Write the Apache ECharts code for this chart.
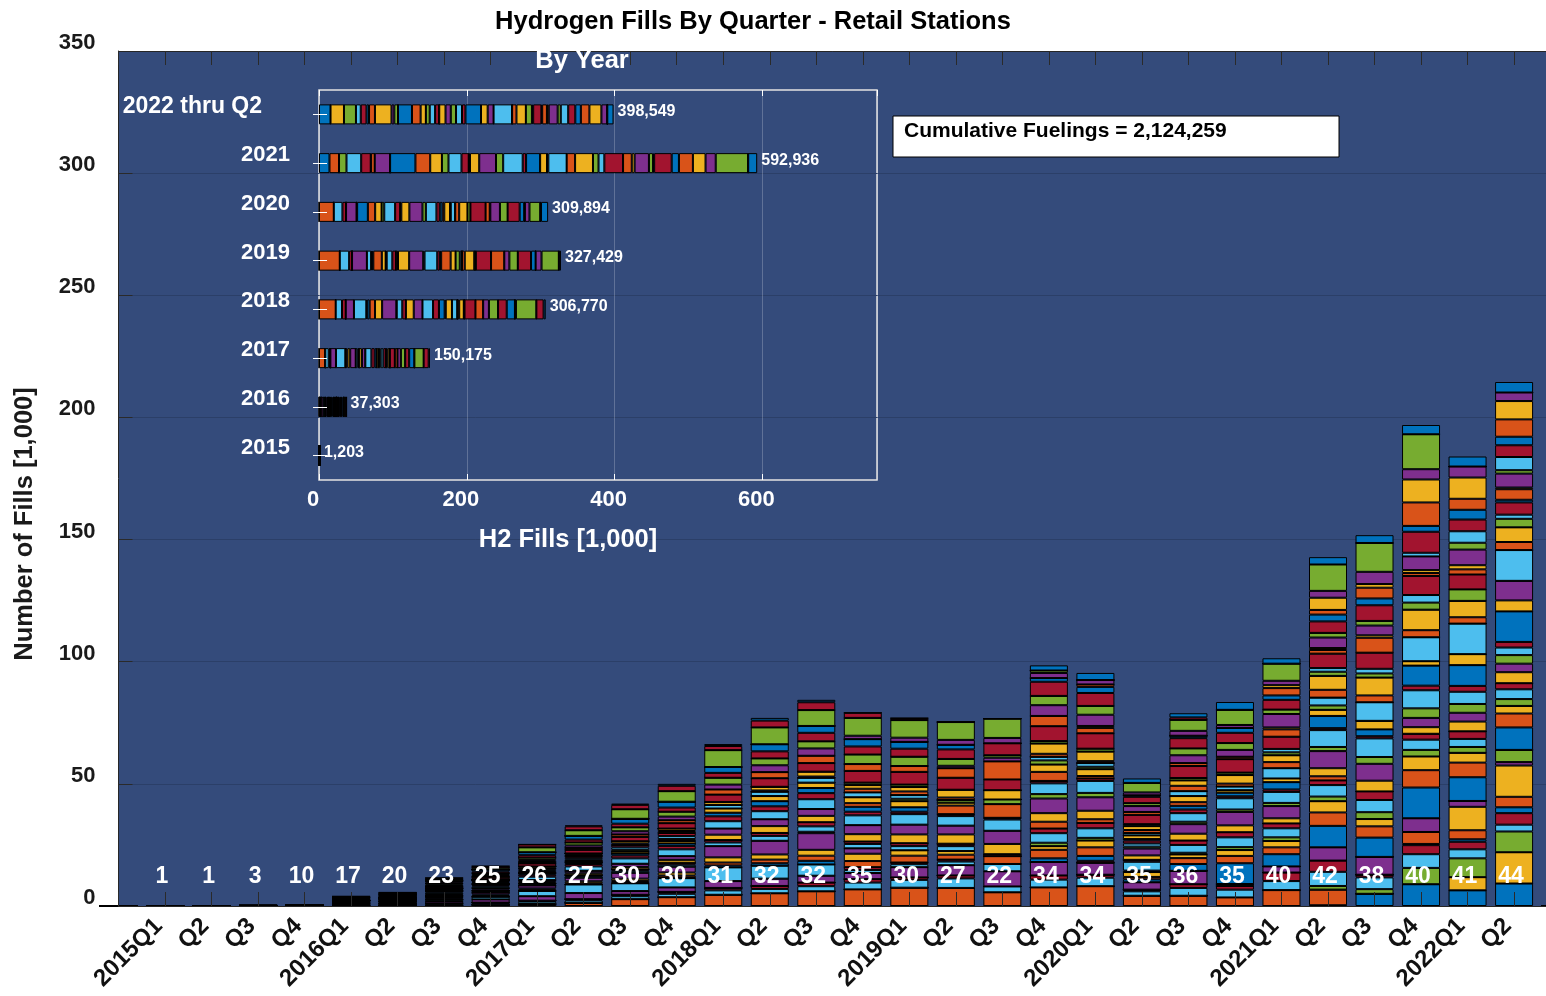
<!DOCTYPE html>
<html><head><meta charset="utf-8">
<script src="https://cdn.jsdelivr.net/npm/echarts/dist/echarts.min.js"></script>
<style>html,body{margin:0;padding:0;background:#fff}#c{width:1546px;height:996px}</style>
</head><body><div id="c"></div>
<script>
// ---------------- data ----------------
const quarters = ['2015Q1','Q2','Q3','Q4','2016Q1','Q2','Q3','Q4','2017Q1','Q2','Q3','Q4','2018Q1','Q2','Q3','Q4','2019Q1','Q2','Q3','Q4','2020Q1','Q2','Q3','Q4','2021Q1','Q2','Q3','Q4','2022Q1','Q2'];
const stationCounts = [1,1,3,10,17,20,23,25,26,27,30,30,31,32,32,35,30,27,22,34,34,35,36,35,40,42,38,40,41,44];
const yearLabels = ['2015','2016','2017','2018','2019','2020','2021','2022 thru Q2'];
const yearTotals = [1203,37303,150175,306770,327429,309894,592936,398549];
const cumulativeFuelings = 2124259;
const yTickMin = 0, yTickMax = 350, yTickStep = 50;
const insetTicks = [0, 200, 400, 600];
const stationColors = ['#0072BD','#D95319','#EDB120','#7E2F8E','#77AC30','#4DBEEE','#A2142F'];
const stationCount = 57;

// fills per station (station index: value in 1,000 fills), one object per quarter
const f2015Q1 = {26:0.15};
const f2015Q2 = {26:0.2};
const f2015Q3 = {10:0.08,26:0.1,49:0.07};
const f2015Q4 = {5:0.05,10:0.08,12:0.06,17:0.05,24:0.05,26:0.08,41:0.06,45:0.05,49:0.06,53:0.06};
const f2016Q1 = {5:0.2,10:0.35,12:0.3,17:0.3,19:0.15,23:0.15,24:0.2,26:0.3,27:0.15,34:0.15,41:0.25,45:0.25,46:0.2,48:0.2,49:0.25,53:0.3,55:0.25};
const f2016Q2 = {5:0.3,10:0.4,12:0.4,16:0.2,17:0.4,19:0.15,23:0.2,24:0.2,26:0.35,27:0.2,30:0.15,33:0.15,34:0.2,41:0.3,43:0.15,45:0.3,46:0.25,48:0.25,49:0.3,53:0.4,55:0.3};
const f2016Q3 = {1:0.3,5:0.6,6:0.2,10:0.9,12:0.7,16:0.4,17:0.6,19:0.3,20:0.2,23:0.4,24:0.4,26:0.6,27:0.4,30:0.3,33:0.3,34:0.4,37:0.3,41:0.6,43:0.3,45:0.5,46:0.5,48:0.5,49:0.6,53:0.6,55:0.6};
const f2016Q4 = {1:0.5,5:0.6,6:0.3,10:1.3,12:1.1,15:0.3,16:0.6,17:0.8,19:0.4,20:0.3,23:0.5,24:0.6,26:0.7,27:0.5,28:0.3,30:0.4,32:0.3,33:0.4,34:0.5,37:0.4,41:0.8,43:0.5,45:0.6,46:0.7,48:0.7,49:0.8,53:0.8,55:0.6};
const f2017Q1 = {1:0.8,5:1.0,6:0.4,10:1.8,12:2.2,15:0.4,16:0.6,17:1.2,19:0.5,20:0.3,23:0.6,24:0.8,26:1.4,27:0.8,28:0.5,30:0.5,32:0.4,33:0.6,34:0.6,36:0.3,37:0.5,41:1.2,43:0.6,45:0.8,46:1.0,48:1.0,49:1.2,53:2.0,55:1.2};
const f2017Q2 = {1:1.3,5:1.0,6:0.5,10:2.5,12:3.5,15:0.5,16:0.8,17:1.5,19:0.6,20:0.4,23:0.8,24:1.0,26:1.8,27:1.0,28:0.6,30:0.6,32:0.5,33:0.8,34:0.8,36:0.4,37:0.6,41:1.5,43:0.8,45:1.0,46:1.2,48:1.2,49:1.5,53:2.3,55:1.6,56:0.4};
const f2017Q3 = {1:2.8,5:1.2,6:0.6,10:1.5,12:3.2,14:0.3,15:0.6,16:1.0,17:2.4,19:0.8,20:0.6,23:1.0,24:1.3,26:2.2,27:1.2,28:0.8,30:0.8,32:0.7,33:1.0,34:1.0,36:0.6,37:0.9,41:1.8,43:1.0,45:1.3,46:1.6,48:1.5,49:2.0,53:3.9,55:1.8,56:0.5};
const f2017Q4 = {1:3.6,5:1.4,6:0.8,10:1.8,12:3.8,14:0.3,15:0.8,16:1.2,17:2.4,19:0.8,20:0.8,23:1.2,24:1.5,26:2.8,27:1.4,28:1.0,30:1.0,32:0.8,33:1.2,34:1.3,36:0.8,37:1.0,41:2.2,43:1.2,45:1.5,46:2.0,48:1.7,49:2.4,53:4.3,55:2.2,56:0.8};
const f2018Q1 = {1:4.6,5:1.8,6:1.0,10:2.8,12:5.6,14:0.8,15:1.2,16:2.1,17:4.6,19:1.5,20:1.0,23:2.2,24:2.5,26:3.0,27:2.0,28:1.5,30:1.7,33:1.5,37:1.2,41:3.0,43:2.1,45:2.0,46:2.8,48:2.0,49:2.4,53:6.9,55:1.7,56:0.8};
const f2018Q2 = {1:5.2,5:1.8,6:1.2,10:3.0,12:5.3,14:1.0,15:1.5,16:2.1,17:5.6,19:2.0,20:1.2,23:2.8,24:2.8,26:3.3,27:2.0,28:2.1,30:2.1,33:1.8,36:0.5,37:1.5,41:3.5,43:2.5,45:2.8,46:2.8,48:2.9,49:2.9,53:6.9,55:2.8,56:1.1};
const f2018Q3 = {1:6.0,5:2.1,6:1.5,10:2.8,12:4.6,14:1.5,15:2.1,16:2.4,17:6.8,18:0.6,19:2.2,20:1.7,23:2.6,24:2.8,26:4.0,27:2.5,28:2.1,30:2.2,33:2.0,36:0.5,37:2.0,41:3.5,43:3.0,45:3.0,46:2.9,48:3.5,49:2.8,53:6.5,55:3.2,56:1.0};
const f2018Q4 = {1:6.8,5:2.8,6:1.4,10:2.5,12:1.2,13:1.2,15:2.5,16:3.0,17:2.2,19:1.8,20:1.0,23:3.0,24:3.7,26:4.0,27:1.5,28:2.0,29:1.5,30:2.4,33:2.0,36:1.5,37:1.5,39:1.0,41:4.8,43:2.8,46:3.9,48:3.3,49:3.0,52:1.4,53:7.3,55:2.1};
const f2019Q1 = {1:7.5,5:3.2,6:1.0,10:4.2,12:1.2,13:0.7,15:2.8,16:2.2,19:1.7,20:1.2,23:3.6,24:4.0,26:4.3,27:1.0,28:1.8,30:2.5,32:1.0,33:1.5,36:1.5,37:1.8,39:1.0,41:5.2,43:2.4,46:3.8,48:3.3,49:2.8,52:1.7,53:7.2,55:0.8};
const f2019Q2 = {1:7.4,5:3.9,6:1.2,10:4.2,12:1.5,13:0.8,15:2.0,16:1.5,19:2.0,20:1.0,23:3.8,24:3.6,26:3.9,27:0.8,29:3.5,30:1.2,32:1.1,36:1.0,37:3.2,41:4.9,43:3.9,45:1.0,46:2.8,48:3.9,49:1.9,52:2.0,53:7.3};
const f2019Q3 = {1:5.6,5:2.4,10:6.2,12:3.0,15:3.2,20:0.8,23:4.2,24:5.4,26:4.6,27:0.7,29:5.6,32:1.9,37:3.8,41:4.4,43:7.4,45:1.5,46:1.0,48:4.9,52:2.2,53:7.9};
const f2019Q4 = {1:7.6,5:3.2,6:1.7,10:5.5,14:1.5,15:3.5,16:1.5,18:1.4,19:3.9,20:1.9,22:2.8,23:3.5,24:6.0,25:1.8,26:4.4,27:1.0,29:3.7,30:3.0,32:1.7,33:1.5,36:1.2,37:4.2,39:1.0,41:6.1,43:4.2,45:4.4,46:3.8,48:5.8,49:1.5,52:2.1,53:1.0,56:2.1};
const f2020Q1 = {1:8.1,5:3.5,6:1.2,10:4.9,13:0.8,14:2.0,15:3.5,16:2.8,18:1.1,19:3.9,20:2.2,22:1.5,23:3.5,24:5.5,25:1.8,26:4.9,27:1.0,29:1.0,30:2.8,32:1.0,33:1.5,36:0.8,37:3.9,39:1.2,41:6.3,43:2.2,44:0.8,45:4.6,46:3.6,48:5.3,49:2.5,50:1.0,52:1.8,56:2.9};
const f2020Q2 = {1:4.2,5:1.8,6:0.7,10:3.0,14:1.2,15:1.0,16:2.0,18:0.6,19:3.6,20:0.8,23:1.8,24:2.8,25:0.8,26:1.3,27:1.2,28:0.6,30:1.5,33:1.0,36:1.2,37:1.6,39:0.8,41:3.8,43:1.2,45:2.4,46:1.2,48:2.6,49:0.6,52:1.2,53:3.9,56:1.8};
const f2020Q3 = {1:4.2,5:3.2,6:1.5,10:5.5,14:2.8,15:2.4,16:1.5,18:0.7,19:3.2,20:1.8,23:2.8,24:3.9,25:1.0,26:3.5,27:1.5,28:1.5,29:1.5,30:2.5,33:2.0,36:2.2,37:2.2,39:1.0,41:4.9,43:1.2,45:3.2,46:2.8,48:4.2,49:1.0,52:2.0,53:4.5,55:1.0,56:1.7};
const f2020Q4 = {1:3.5,5:3.2,6:1.5,10:0.8,14:8.5,15:3.0,16:2.4,18:1.2,19:4.0,20:2.1,23:2.8,24:5.5,25:1.0,26:4.6,27:0.8,28:1.5,30:1.0,33:1.5,36:1.2,37:3.5,39:1.0,41:5.5,43:1.0,45:2.8,46:2.8,48:4.2,49:2.0,52:1.2,53:6.2,56:3.2};
const f2021Q1 = {1:6.5,5:3.7,6:3.5,10:2.5,14:5.0,15:2.8,16:2.6,18:1.5,19:3.7,20:2.0,23:2.1,24:5.0,25:1.3,26:4.5,27:1.0,28:3.0,30:1.5,33:4.2,36:2.5,37:2.8,39:1.2,40:1.4,41:5.0,43:3.0,44:0.8,45:5.5,46:1.8,48:4.0,49:1.8,50:3.0,51:1.2,52:1.8,53:7.0,56:2.2};
const f2021Q2 = {0:0.3,1:6.4,4:1.5,5:5.8,6:4.6,10:5.4,14:8.8,15:5.5,16:4.6,18:1.9,19:4.7,20:1.9,22:1.7,23:3.3,24:7.0,25:1.7,26:6.9,27:0.8,28:5.0,30:2.5,32:1.8,33:3.2,36:3.2,37:5.7,39:1.7,40:1.5,41:5.9,43:1.5,44:0.8,45:4.3,46:1.9,48:4.7,49:2.8,50:1.9,51:5.0,52:2.8,53:10.8,56:3.0};
const f2021Q3 = {0:5.0,4:1.9,5:4.8,6:1.1,10:7.3,14:7.9,15:4.6,16:3.0,18:2.8,19:5.0,20:3.5,23:4.4,24:6.9,25:2.8,26:7.6,27:0.9,28:2.8,30:3.5,33:7.6,36:2.8,37:7.3,39:1.7,40:1.9,41:6.6,43:6.1,44:1.0,45:4.0,46:1.9,48:6.4,49:2.8,50:4.4,51:1.5,52:5.0,53:11.8,56:3.2};
const f2021Q4 = {0:8.9,4:6.7,5:5.6,6:3.7,7:0.5,8:4.9,10:5.6,14:12.6,15:7.1,16:5.6,18:2.7,19:4.2,20:2.4,23:2.7,24:3.8,25:3.9,26:7.4,27:1.9,28:8.2,30:1.8,33:9.8,36:2.9,37:8.4,39:2.9,40:3.1,41:7.8,43:1.2,44:1.2,45:5.6,47:1.5,48:8.6,49:2.4,50:9.6,51:9.4,52:4.2,53:14.3,56:3.8};
const f2022Q1 = {0:6.4,2:5.4,4:7.7,5:3.7,6:3.1,7:1.0,8:3.7,9:9.6,10:2.4,14:9.7,15:6.0,16:4.0,18:2.4,19:3.3,20:3.1,23:4.0,24:3.6,25:3.6,26:5.0,27:2.4,28:8.5,30:4.5,33:12.5,36:2.6,37:6.7,39:4.7,41:6.1,43:2.1,44:1.7,45:6.4,46:2.8,47:4.7,48:4.8,49:4.0,50:4.5,51:8.7,52:4.5,56:4.1};
const f2022Q2 = {0:9.2,2:12.8,4:8.5,5:2.8,6:4.7,7:2.4,8:4.3,9:12.8,10:1.4,11:5.0,14:9.2,15:5.7,16:3.1,18:2.8,19:4.0,20:2.5,23:4.5,24:3.5,25:3.5,26:3.1,27:2.3,28:12.5,30:4.5,31:8.0,33:12.6,36:3.3,37:6.0,39:3.5,40:1.7,41:5.0,42:1.1,43:4.3,44:0.7,45:5.7,46:1.4,47:5.4,48:4.8,49:3.5,50:7.1,51:7.5,52:3.5,56:4.3};

const quarterFills = [f2015Q1,f2015Q2,f2015Q3,f2015Q4,f2016Q1,f2016Q2,f2016Q3,f2016Q4,f2017Q1,f2017Q2,f2017Q3,f2017Q4,
  f2018Q1,f2018Q2,f2018Q3,f2018Q4,f2019Q1,f2019Q2,f2019Q3,f2019Q4,f2020Q1,f2020Q2,f2020Q3,f2020Q4,
  f2021Q1,f2021Q2,f2021Q3,f2021Q4,f2022Q1,f2022Q2];

// ---------------- chart ----------------
const FONT = '"Liberation Sans", Arial, Helvetica, sans-serif';
const cats = [''].concat(quarters, ['']);
const series = [];
for (let k = 0; k < stationCount; k++) {
  const color = stationColors[k % stationColors.length];
  series.push({
    type: 'bar', stack: 'quarter', xAxisIndex: 0, yAxisIndex: 0, barWidth: 38,
    data: [0].concat(quarterFills.map(f => f[k] || 0), [0]),
    itemStyle: { color: color, borderColor: '#000', borderWidth: 1 },
    silent: true
  });
  const yearly = yearLabels.map(() => 0);
  quarterFills.forEach((f, i) => { yearly[Math.floor(i / 4)] += (f[k] || 0); });
  series.push({
    type: 'bar', stack: 'year', xAxisIndex: 2, yAxisIndex: 1, barWidth: 20,
    data: yearly,
    itemStyle: { color: color, borderColor: '#000', borderWidth: 1 },
    silent: true
  });
}
series.push({
  type: 'scatter', xAxisIndex: 0, yAxisIndex: 0, symbolSize: 0.1, z: 20,
  itemStyle: { color: 'rgba(0,0,0,0)' },
  data: stationCounts.map((c, i) => [i + 1, 12]),
  label: { show: true, position: 'inside', offset: [-3, 0], formatter: p => String(stationCounts[p.dataIndex]),
    color: '#ffffff', opacity: 1, textBorderWidth: 0, fontSize: 23, fontWeight: 'bold', fontFamily: FONT }
});
series.push({
  type: 'scatter', xAxisIndex: 2, yAxisIndex: 1, symbolSize: 0.1, z: 20,
  itemStyle: { color: 'rgba(0,0,0,0)' },
  data: yearTotals.map((t, i) => [t / 1000, i]),
  label: { show: true, position: 'right', distance: 4, offset: [0, -3],
    formatter: p => yearTotals[p.dataIndex].toLocaleString('en-US'),
    color: '#ffffff', opacity: 1, textBorderWidth: 0, fontSize: 16, fontWeight: 'bold', fontFamily: FONT }
});

const option = {
  animation: false,
  backgroundColor: '#ffffff',
  textStyle: { fontFamily: FONT },
  grid: [
    { left: 118.5, top: 51, right: -14.6, bottom: 90, show: true, backgroundColor: '#344b7b', borderWidth: 0, containLabel: false, outerBoundsMode: 'none' },
    { left: 319, top: 90, width: 558, height: 390, show: true, backgroundColor: 'rgba(0,0,0,0)', borderColor: '#e3e3e3', borderWidth: 1.5, containLabel: false, outerBoundsMode: 'none' }
  ],
  xAxis: [
    { gridIndex: 0, type: 'category', data: cats, boundaryGap: false, position: 'bottom', z: 10,
      axisLine: { show: true, lineStyle: { color: '#262626', width: 1 } },
      axisTick: { show: true, inside: true, length: 14, interval: 0, lineStyle: { color: '#2a2a2a' } },
      axisLabel: { interval: 0, rotate: 45, margin: 10, color: '#111', fontSize: 24, fontWeight: 'bold', fontFamily: FONT,
        formatter: v => '{x|' + v + '}',
        rich: { x: { color: '#111', fontSize: 24, fontWeight: 'bold', fontFamily: FONT, padding: [0, 9, 0, 0] } } },
      splitLine: { show: false } },
    { gridIndex: 0, type: 'category', data: cats, boundaryGap: false, position: 'top', z: 10,
      axisLine: { show: true, lineStyle: { color: '#262626', width: 1 } },
      axisTick: { show: true, inside: true, length: 14, interval: 0, lineStyle: { color: '#2a2a2a' } },
      axisLabel: { show: false }, splitLine: { show: false } },
    { gridIndex: 1, type: 'value', min: insetTicks[0], max: 755, interval: insetTicks[1] - insetTicks[0], position: 'bottom',
      axisLine: { show: false },
      axisTick: { show: true, inside: true, length: 6, lineStyle: { color: '#fff' } },
      axisLabel: { showMaxLabel: false, color: '#fff', fontSize: 22, fontWeight: 'bold', fontFamily: FONT, margin: 9, padding: [0, 12, 0, 0],
        formatter: v => (insetTicks.indexOf(v) >= 0 ? String(v) : '') },
      splitLine: { show: true, lineStyle: { color: 'rgba(255,255,255,0.22)', width: 1 } } },
    { gridIndex: 1, type: 'value', min: insetTicks[0], max: 755, interval: insetTicks[1] - insetTicks[0], position: 'top',
      axisLine: { show: false },
      axisTick: { show: true, inside: true, length: 6, lineStyle: { color: '#fff' } },
      axisLabel: { show: false }, splitLine: { show: false } }
  ],
  yAxis: [
    { gridIndex: 0, type: 'value', min: yTickMin, max: yTickMax, interval: yTickStep,
      axisLine: { show: true, lineStyle: { color: '#262626', width: 1 } },
      axisTick: { show: true, inside: true, length: 14, lineStyle: { color: '#2a2a2a' } },
      axisLabel: { color: '#1a1a1a', fontSize: 22, fontWeight: 'bold', fontFamily: FONT, margin: 23,
        formatter: v => '{v|' + v + '}',
        rich: { v: { color: '#1a1a1a', fontSize: 22, fontWeight: 'bold', fontFamily: FONT, padding: [0, 0, 16, 0] } } },
      splitLine: { show: true, lineStyle: { color: '#2b3f68', width: 1 } } },
    { gridIndex: 1, type: 'category', data: yearLabels, position: 'left', z: 10,
      axisLine: { show: false },
      axisTick: { show: true, inside: true, length: 8, alignWithLabel: true, lineStyle: { color: '#fff' } },
      axisLabel: { color: '#fff', fontSize: 22, fontWeight: 'bold', fontFamily: FONT, margin: 29, padding: [0, 0, 16, 0],
        formatter: v => v === yearLabels[yearLabels.length - 1] ? '{p|' + v + '}' : v,
        rich: { p: { color: '#fff', fontSize: 23, fontWeight: 'bold', fontFamily: FONT, padding: [0, 28, 0, 0] } } },
      splitLine: { show: false } },
    { gridIndex: 1, type: 'category', data: yearLabels, position: 'right', z: 10,
      axisLine: { show: false },
      axisTick: { show: true, inside: true, length: 6, alignWithLabel: true, lineStyle: { color: '#fff' } },
      axisLabel: { show: false }, splitLine: { show: false } }
  ],
  graphic: [
    { type: 'text', x: 753, y: 22, z: 30, style: { text: 'Hydrogen Fills By Quarter - Retail Stations', font: 'bold 25.5px ' + FONT, fill: '#000', align: 'center', verticalAlign: 'middle' } },
    { type: 'text', x: 25, y: 524, rotation: Math.PI / 2, z: 30, style: { text: 'Number of Fills [1,000]', font: 'bold 25.5px ' + FONT, fill: '#1a1a1a', align: 'center', verticalAlign: 'middle' } },
    { type: 'text', x: 582, y: 61, z: 30, style: { text: 'By Year', font: 'bold 25.5px ' + FONT, fill: '#fff', align: 'center', verticalAlign: 'middle' } },
    { type: 'text', x: 568, y: 540, z: 30, style: { text: 'H2 Fills [1,000]', font: 'bold 25.5px ' + FONT, fill: '#fff', align: 'center', verticalAlign: 'middle' } },
    { type: 'rect', z: 30, shape: { x: 893, y: 116, width: 446, height: 41 }, style: { fill: '#fff', stroke: '#000', lineWidth: 1 } },
    { type: 'text', x: 904, y: 131, z: 31, style: { text: 'Cumulative Fuelings = ' + cumulativeFuelings.toLocaleString('en-US'), font: 'bold 21px ' + FONT, fill: '#000', verticalAlign: 'middle' } }
  ],
  series: series
};
const chart = echarts.init(document.getElementById('c'), null, { renderer: 'canvas' });
chart.setOption(option);
</script></body></html>
